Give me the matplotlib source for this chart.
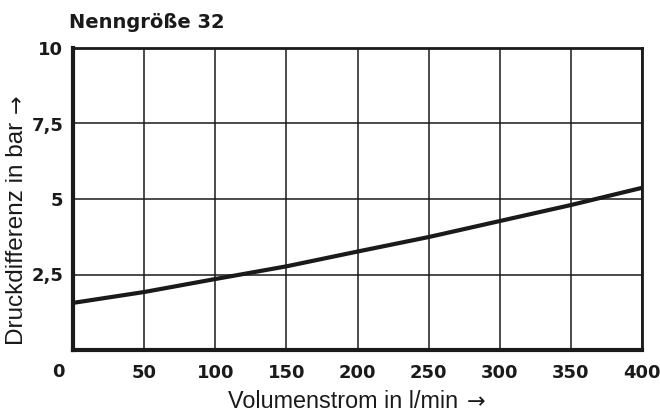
import matplotlib
matplotlib.use("Agg")
from matplotlib import pyplot as plt

# Kennlinie
flow = [0, 50, 100, 150, 200, 250, 300, 350, 400]
dp = [1.56, 1.92, 2.35, 2.77, 3.26, 3.74, 4.27, 4.80, 5.37]

x_ticks = [50, 100, 150, 200, 250, 300, 350, 400]
y_ticks = [2.5, 5, 7.5, 10]
y_tick_labels = ['2,5', '5', '7,5', '10']

title = 'Nenngröße 32'
x_label = 'Volumenstrom in l/min'
y_label = 'Druckdifferenz in bar'
arrow = '→'

ink = '#1a1a1a'
W, H = 660, 412

fig = plt.figure(figsize=(6.6, 4.12), dpi=100)
ax = fig.add_axes([73 / W, 62 / H, 569 / W, 302 / H])

ax.set_xlim(0, 400)
ax.set_ylim(0, 10)
ax.set_xticks(x_ticks)
ax.set_yticks(y_ticks)
ax.set_yticklabels(y_tick_labels)
ax.grid(True, color=ink, linewidth=1.1)
ax.set_axisbelow(True)
ax.tick_params(length=0, labelsize=13, colors=ink)
ax.tick_params(axis='x', pad=10)
ax.tick_params(axis='y', pad=7)
for lab in ax.get_xticklabels() + ax.get_yticklabels():
    lab.set_fontweight('bold')
    lab.set_fontfamily('DejaVu Sans')

for side in ['left', 'bottom']:
    ax.spines[side].set_linewidth(3)
for side in ['top', 'right']:
    ax.spines[side].set_linewidth(2)
for sp in ax.spines.values():
    sp.set_color(ink)

ax.plot(flow, dp, color=ink, linewidth=3, solid_capstyle='butt', clip_on=False)

# "0" sitzt links neben der Achse
fig.text(58 / W, 1 - 372 / H, '0', ha='center', va='center',
         fontsize=13, fontweight='bold', family='DejaVu Sans', color=ink)

fig.text(69 / W, 1 - 22 / H, title, ha='left', va='center',
         fontsize=14, fontweight='bold', family='DejaVu Sans', color=ink)

xl = fig.text(228 / W, 1 - 408 / H, x_label, ha='left', va='baseline',
              fontsize=16.8, family='Liberation Sans', color=ink)
yl = fig.text(23 / W, 1 - 345 / H, y_label, ha='left', va='baseline',
              rotation=90, rotation_mode='anchor',
              fontsize=17.5, family='Liberation Sans', color=ink)

# Pfeile in DejaVu Sans hinter die Achsentitel setzen
fig.canvas.draw()
r = fig.canvas.get_renderer()
bx = xl.get_window_extent(r)
by = yl.get_window_extent(r)
fig.text((bx.x1 + 9) / W, 1 - 408 / H, arrow, ha='left', va='baseline',
         fontsize=16, family='DejaVu Sans', color=ink)
fig.text(23 / W, (by.y1 + 9) / H, arrow, ha='left', va='baseline',
         rotation=90, rotation_mode='anchor',
         fontsize=16, family='DejaVu Sans', color=ink)

fig.savefig('out.png', dpi=100)
